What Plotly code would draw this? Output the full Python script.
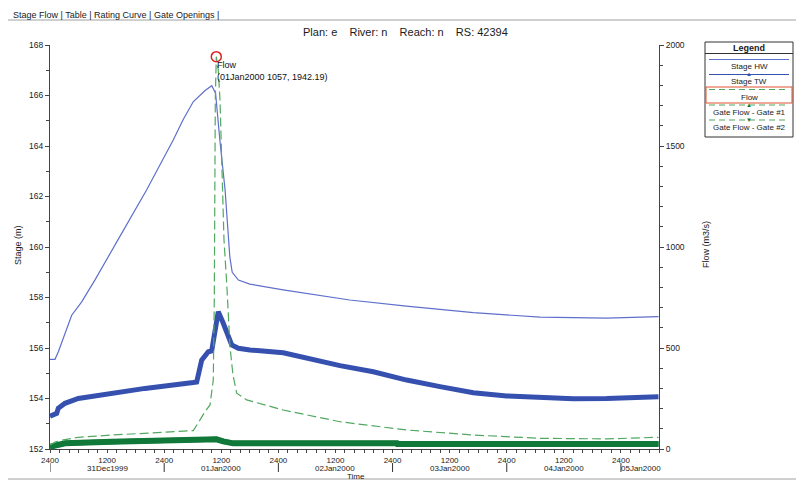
import pandas as pd
import plotly.graph_objects as go

# hours after 31Dec1999 0000 (shown as 30Dec1999 2400)
start = pd.Timestamp("1999-12-31 00:00")

hw_hours = [0.0, 1.05, 1.75, 3.15, 4.56, 6.66, 9.46, 14.7, 20.3, 25.9, 28.0, 30.1,
            32.6, 34.0, 34.8, 35.7, 36.8, 37.8, 38.3, 39.6, 42.0, 49.0, 63.0, 74.9,
            89.0, 103.0, 117.0, 127.9]
hw_stage = [155.55, 155.55, 155.85, 156.57, 157.30, 157.83, 158.70, 160.42, 162.26,
            164.24, 165.05, 165.75, 166.20, 166.39, 166.09, 164.24, 162.26, 159.60,
            159.00, 158.69, 158.53, 158.30, 157.90, 157.66, 157.40, 157.22, 157.18,
            157.24]

tw_hours = [0.0, 1.41, 1.74, 3.15, 5.95, 12.97, 19.97, 30.12, 30.83, 31.88, 32.58,
            33.27, 33.98, 35.37, 36.42, 38.19, 39.58, 42.03, 49.03, 54.64, 60.95,
            67.95, 74.97, 81.97, 88.97, 95.98, 102.98, 109.98, 117.0, 127.9]
tw_stage = [153.30, 153.41, 153.61, 153.81, 154.00, 154.20, 154.40, 154.63, 154.65,
            155.52, 155.72, 155.85, 155.88, 157.44, 156.98, 156.12, 155.99, 155.92,
            155.81, 155.55, 155.30, 155.06, 154.73, 154.47, 154.23, 154.10, 154.02,
            153.99, 154.00, 154.07]

flow_hours = [0.0, 1.2, 2.8, 5.95, 12.97, 19.97, 30.12, 31.53, 32.58, 33.63, 34.32,
              34.53, 34.74, 34.95, 35.37, 35.73, 36.15, 36.57, 37.14, 37.83, 38.46,
              39.24, 41.34, 49.03, 60.95, 74.97, 88.97, 102.98, 117.0, 124.0, 127.9]
flow_q = [20, 35, 45, 58, 69, 78, 91, 144, 185, 218, 342, 738, 1728, 1942.19, 1876,
          1728, 1332, 1035, 820, 506, 366, 276, 243, 193, 135, 94, 69, 53, 50, 53, 58]

gate_hours = [0.0, 1.5, 3.15, 12.97, 30.12, 35.0, 36.4, 38.5, 72.9, 73.0, 127.9]
gate1_q = [11, 20, 28, 36, 48, 48, 38, 28, 28, 25, 25]
gate2_q = [11, 20, 28, 36, 48, 48, 38, 28, 28, 25, 25]

peak_hour = 34.95
peak_flow = 1942.19

tick_hours = [0, 12, 24, 36, 48, 60, 72, 84, 96, 108, 120]
tick_text = ["2400", "1200", "2400", "1200", "2400", "1200", "2400", "1200",
             "2400", "1200", "2400"]
day_hours = [12, 36, 60, 84, 108]
day_labels = ["31Dec1999", "01Jan2000", "02Jan2000", "03Jan2000", "04Jan2000"]
sep_hours = [0, 24, 48, 72, 96, 120]

legend_names = ["Stage HW", "Stage TW", "Flow", "Gate Flow - Gate #1", "Gate Flow - Gate #2"]

HW_COL = "#5f6fcc"
TW_COL = "#3550ae"
FLOW_COL = "#52a860"
GATE_COL = "#10793a"
FONT = "Liberation Sans, Arial, sans-serif"

# the page body has an 8px margin, so the figure is drawn 8px in from the corner
OFF = 8


def t(hours):
    return start + pd.to_timedelta(hours, unit="h")


# screen pixel -> paper helpers (plot area is x 50..659, y 45..449 on screen)
def px(x):
    return (x - 50) / 609.0


def py(y):
    return (449 - y) / 404.0


def note(x, y, text, size=9, xanchor="center", **kw):
    d = dict(x=x, y=y, xref="paper", yref="paper", text=text, showarrow=False,
             xanchor=xanchor, yanchor="middle", font=dict(size=size, color="#1a1a1a"))
    d.update(kw)
    return d


fig = go.Figure()

fig.add_trace(go.Scatter(x=t(gate_hours), y=gate1_q, yaxis="y2", mode="lines",
                         line=dict(color=GATE_COL, width=6), name=legend_names[3]))
fig.add_trace(go.Scatter(x=t(gate_hours), y=gate2_q, yaxis="y2", mode="lines",
                         line=dict(color=GATE_COL, width=5), name=legend_names[4]))
fig.add_trace(go.Scatter(x=t(flow_hours), y=flow_q, yaxis="y2", mode="lines",
                         line=dict(color=FLOW_COL, width=1.2, dash="9px,4px"),
                         name=legend_names[2]))
fig.add_trace(go.Scatter(x=t(hw_hours), y=hw_stage, mode="lines",
                         line=dict(color=HW_COL, width=1.2), name=legend_names[0]))
fig.add_trace(go.Scatter(x=t(tw_hours), y=tw_stage, mode="lines",
                         line=dict(color=TW_COL, width=5), name=legend_names[1]))
fig.add_trace(go.Scatter(x=[t(peak_hour)], y=[peak_flow], yaxis="y2", mode="markers",
                         marker=dict(symbol="circle-open", size=10, color="#e02020",
                                     line=dict(width=1.5)),
                         cliponaxis=False, showlegend=False))

annotations = [
    dict(x=t(peak_hour), y=peak_flow, yref="y2", xanchor="left", yanchor="top",
         text="Flow<br>(01Jan2000 1057, 1942.19)", showarrow=False, align="left",
         xshift=-1, yshift=-1, font=dict(size=9, color="#111")),
    note(px(405), py(32), "Plan: e    River: n    Reach: n    RS: 42394", size=11),
    note(px(11), py(15), "Stage Flow | Table | Rating Curve | Gate Openings |", xanchor="left"),
    note(px(18), py(245), "Stage (m)", textangle=-90),
    note(px(706), py(245), "Flow (m3/s)", textangle=-90),
    note(px(356), py(476), "Time", size=8),
    note(px(619), py(468), "05Jan2000", size=8, xanchor="left"),
    note(px(749), py(48), "<b>Legend</b>"),
]
for h, lab in zip(day_hours, day_labels):
    annotations.append(dict(x=t(h), y=py(468), yref="paper", text=lab, showarrow=False,
                            xanchor="center", yanchor="middle",
                            font=dict(size=8, color="#1a1a1a")))

shapes = [
    dict(type="rect", xref="paper", yref="paper", x0=px(7), x1=px(800), y0=py(479), y1=py(20),
         line=dict(color="#a0a0a0", width=1)),
    dict(type="rect", xref="paper", yref="paper", x0=px(705), x1=px(793), y0=py(137), y1=py(42),
         line=dict(color="#333", width=1)),
    dict(type="line", xref="paper", yref="paper", x0=px(705), x1=px(793), y0=py(53.5), y1=py(53.5),
         line=dict(color="#333", width=1)),
    dict(type="rect", xref="paper", yref="paper", x0=px(706), x1=px(792), y0=py(103), y1=py(87),
         line=dict(color="#e05030", width=1)),
]
for h in sep_hours:
    shapes.append(dict(type="line", xref="x", yref="paper", x0=t(h), x1=t(h),
                       y0=py(463), y1=py(472), line=dict(color="#333", width=1)))

# legend rows: sample line y, text y, colour, width, dash, marker
rows = [
    (59.5, 66, HW_COL, 1, "solid", ""),
    (74.5, 81.5, TW_COL, 1, "solid", "▲"),
    (89.5, 97, FLOW_COL, 1.2, "6px,4px", ""),
    (105, 112, FLOW_COL, 1.2, "6px,4px", "▲"),
    (120, 127.5, FLOW_COL, 1.2, "6px,4px", "▼"),
]
for (ly, ty, col, w, dash, mk), name in zip(rows, legend_names):
    shapes.append(dict(type="line", xref="paper", yref="paper", x0=px(709), x1=px(789),
                       y0=py(ly), y1=py(ly), line=dict(color=col, width=w, dash=dash)))
    annotations.append(note(px(749), py(ty), name, size=8))
    if mk:
        mcol = col if col != FLOW_COL else GATE_COL
        annotations.append(dict(x=px(749), y=py(ly), xref="paper", yref="paper", text=mk,
                                showarrow=False, xanchor="center", yanchor="middle",
                                font=dict(size=6, color=mcol)))

fig.update_layout(
    width=804 - OFF, height=483 - OFF,
    margin=dict(l=50 - OFF, r=(804 - OFF) - (659 - OFF), t=45 - OFF, b=(483 - OFF) - (449 - OFF),
                autoexpand=False),
    paper_bgcolor="white", plot_bgcolor="white",
    showlegend=False,
    font=dict(family=FONT, size=9, color="#222"),
    annotations=annotations,
    shapes=shapes,
    xaxis=dict(
        range=[t(0), t(128)], automargin=False,
        tickmode="array", tickvals=t(tick_hours), ticktext=tick_text,
        showline=True, linecolor="#444", linewidth=1,
        ticks="outside", ticklen=3, tickcolor="#444",
        minor=dict(tickmode="linear", tick0=t(0), dtick=7200000, ticks="outside",
                   ticklen=3, tickcolor="#444"),
        showgrid=False, zeroline=False, tickfont=dict(size=8),
    ),
    yaxis=dict(
        range=[152, 168], dtick=2, showline=True, linecolor="#444", linewidth=1,
        automargin=False,
        ticks="outside", ticklen=4, tickcolor="#444",
        minor=dict(dtick=1, ticks="outside", ticklen=3, tickcolor="#444"),
        showgrid=False, zeroline=False, tickfont=dict(size=8.5),
    ),
    yaxis2=dict(
        range=[0, 2000], dtick=500, overlaying="y", side="right",
        automargin=False,
        showline=True, linecolor="#444", linewidth=1,
        ticks="outside", ticklen=4, tickcolor="#444",
        minor=dict(dtick=100, ticks="outside", ticklen=3, tickcolor="#444"),
        showgrid=False, zeroline=False, tickfont=dict(size=8.5),
    ),
)

fig.write_html("out.html")
